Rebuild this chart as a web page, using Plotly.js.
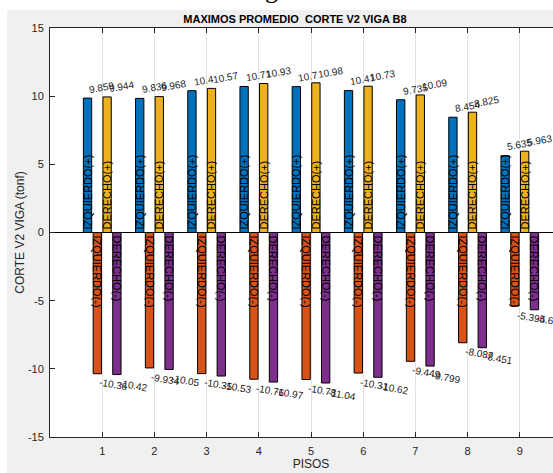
<!DOCTYPE html>
<html>
<head>
<meta charset="utf-8">
<script src="https://cdn.plot.ly/plotly-3.0.1.min.js"></script>
<style>
html, body { margin:0; padding:0; overflow:hidden; width:553px; height:473px; background:#fff; }
#bg { position:absolute; left:7px; top:10px; right:0; bottom:0; background:#f0f0f0; }
#cap { position:absolute; left:265px; top:-23px; font-family:'Liberation Serif', serif; font-size:26px; line-height:26px; color:#000; }
#chart { position:absolute; left:0; top:0; width:600px; height:473px; }
</style>
</head>
<body>
<div id="bg"></div>
<div id="cap">g</div>
<div id="chart"></div>
<script>
// ---- data ----
const floors = [1, 2, 3, 4, 5, 6, 7, 8, 9];
const izquierdoPos = [9.859, 9.836, 10.4, 10.71, 10.7, 10.41, 9.735, 8.454, 5.635];
const izquierdoNeg = [-10.36, -9.934, -10.35, -10.76, -10.78, -10.31, -9.449, -8.087, -5.394];
const derechoPos = [9.944, 9.968, 10.57, 10.93, 10.98, 10.73, 10.09, 8.825, 5.963];
const derechoNeg = [-10.42, -10.05, -10.53, -10.97, -11.04, -10.62, -9.799, -8.451, -5.668];
const seriesNames = ['IZQUIERDO(+)', 'IZQUIERDO(-)', 'DERECHO(+)', 'DERECHO(-)'];
const yTickVals = [-15, -10, -5, 0, 5, 10, 15];
const yTickText = ['-15', '-10', '-5', '0', '5', '10', '15'];
const chartTitle = 'MAXIMOS PROMEDIO \u00a0CORTE V2 VIGA B8';
const xTitle = 'PISOS';
const yTitle = 'CORTE V2 VIGA (tonf)';

// ---- style ----
const colors = ['#0072BD', '#D95319', '#EDB120', '#7E2F8E'];
const FONT = '"Liberation Sans", Arial, Helvetica, sans-serif';
const bargap = 0.25, bargroupgap = 0.15;
const seriesData = [izquierdoPos, izquierdoNeg, derechoPos, derechoNeg];
const slot = (1 - bargap) / seriesData.length;

const traces = seriesData.map((ys, i) => ({
  type: 'bar',
  x: floors,
  y: ys,
  name: seriesNames[i],
  marker: { color: colors[i], line: { color: '#000', width: 1 } },
  texttemplate: seriesNames[i],
  textposition: 'inside',
  insidetextanchor: 'start',
  textangle: ys[0] >= 0 ? -90 : 90,
  constraintext: 'none',
  insidetextfont: { family: FONT, size: 11, color: '#000' },
  hoverinfo: 'skip',
  showlegend: false
}));

const annotations = [];
seriesData.forEach((ys, i) => {
  const off = (i - (seriesData.length - 1) / 2) * slot;
  ys.forEach((v, k) => {
    const pos = v >= 0;
    annotations.push({
      x: floors[k] + off, y: v, xref: 'x', yref: 'y',
      text: String(v),
      showarrow: false,
      xanchor: 'left', yanchor: pos ? 'bottom' : 'top',
      textangle: pos ? -10 : 10,
      yshift: pos ? 2 : -2,
      borderpad: 0,
      font: { family: FONT, size: 10, color: '#1a1a1a' }
    });
  });
});

const layout = {
  width: 600, height: 473,
  margin: { l: 50, r: 28, t: 28, b: 36 },
  paper_bgcolor: 'rgba(0,0,0,0)',
  plot_bgcolor: '#ffffff',
  barmode: 'group',
  bargap: bargap,
  bargroupgap: bargroupgap,
  title: {
    text: chartTitle,
    font: { family: FONT, size: 11, weight: 'bold', color: '#000' },
    xref: 'container', x: 295 / 600, xanchor: 'center',
    yref: 'container', y: 1 - 19 / 473, yanchor: 'middle'
  },
  xaxis: {
    range: [0, 10],
    tickvals: floors,
    ticktext: floors.map(String),
    ticks: 'inside', ticklen: 5, tickcolor: '#262626', tickwidth: 1,
    showline: true, linecolor: '#262626', linewidth: 1, mirror: 'ticks',
    showgrid: true, gridcolor: '#e3e3e3', gridwidth: 1,
    zeroline: false,
    tickfont: { family: FONT, size: 11, color: '#262626' },
    ticklabelstandoff: 4,
    title: { text: xTitle, font: { family: FONT, size: 12, color: '#262626' }, standoff: 2 },
    automargin: false
  },
  yaxis: {
    range: [-15, 15],
    tickvals: yTickVals,
    ticktext: yTickText,
    ticks: 'inside', ticklen: 5, tickcolor: '#262626', tickwidth: 1,
    showline: true, linecolor: '#262626', linewidth: 1, mirror: 'ticks',
    showgrid: false,
    zeroline: true, zerolinecolor: '#000', zerolinewidth: 1,
    tickfont: { family: FONT, size: 11, color: '#262626' },
    ticklabelstandoff: 3,
    title: { text: yTitle, font: { family: FONT, size: 12, color: '#262626' }, standoff: 0 },
    automargin: false
  },
  annotations: annotations
};

Plotly.newPlot('chart', traces, layout, { staticPlot: true, displayModeBar: false });
</script>
</body>
</html>
